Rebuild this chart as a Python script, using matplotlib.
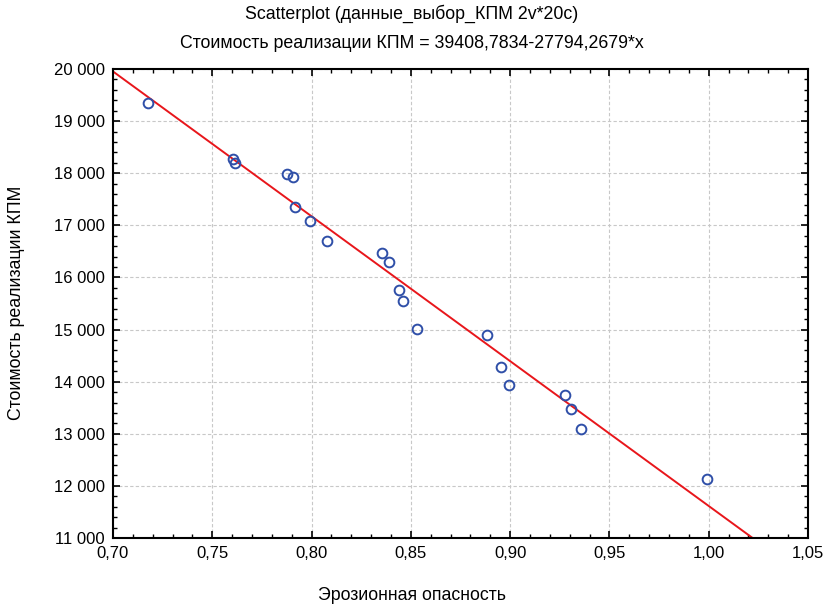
import numpy as np
import matplotlib.pyplot as plt
from matplotlib.ticker import MultipleLocator, FuncFormatter

plt.rcParams['font.family'] = ['Liberation Sans', 'DejaVu Sans']

# erosion hazard vs. cost of implementation (20 cases)
erosion = [0.7176, 0.7606, 0.7616, 0.7878, 0.7908, 0.7917, 0.7992, 0.8078,
           0.8353, 0.8391, 0.8442, 0.8462, 0.8532, 0.8883, 0.8954, 0.8994,
           0.9276, 0.9306, 0.9358, 0.9991]
cost = [19340, 18270, 18190, 17990, 17920, 17350, 17080, 16700,
        16460, 16300, 15765, 15550, 15010, 14890, 14280, 13935,
        13745, 13475, 13085, 12130]
intercept = 39408.7834
slope = -27794.2679

fig = plt.figure(figsize=(8.23, 6.08), dpi=100)
ax = fig.add_axes([0.1373, 0.1151, 0.8445, 0.7714])

xs = np.array([0.70, 1.05])
ax.plot(xs, intercept + slope * xs, color='#e8161b', lw=1.4, zorder=2)
ax.plot(erosion, cost, 'o', mfc='none', mec='#2f4fa8', ms=7, mew=1.4, zorder=3)

ax.set_xlim(0.70, 1.05)
ax.set_ylim(11000, 20000)
ax.xaxis.set_major_locator(MultipleLocator(0.05))
ax.xaxis.set_minor_locator(MultipleLocator(0.01))
ax.yaxis.set_major_locator(MultipleLocator(1000))
ax.yaxis.set_minor_locator(MultipleLocator(200))
ax.xaxis.set_major_formatter(FuncFormatter(lambda v, p: f"{v:.2f}".replace('.', ',')))
ax.yaxis.set_major_formatter(FuncFormatter(lambda v, p: f"{int(round(v)):,}".replace(',', ' ')))

ax.tick_params(which='both', direction='in', top=True, right=True, labelsize=12)
ax.tick_params(which='major', length=5, width=1.2, pad=6)
ax.tick_params(which='minor', length=3, width=1)
for s in ax.spines.values():
    s.set_linewidth(1.5)
ax.grid(True, which='major', color='#c8c8c8', ls=(0, (3, 2)), lw=0.8)

fig.text(0.5, 1 - 14 / 608, 'Scatterplot (данные_выбор_КПМ 2v*20c)', ha='center', va='center', fontsize=12.8)
fig.text(0.5, 1 - 44 / 608, 'Стоимость реализации КПМ = 39408,7834-27794,2679*x', ha='center', va='center', fontsize=12.8)
fig.text(0.5, 1 - 596 / 608, 'Эрозионная опасность', ha='center', va='center', fontsize=12.8)
fig.text(17 / 823, 1 - 303 / 608, 'Стоимость реализации КПМ', ha='center', va='center', rotation=90, fontsize=12.8)

fig.savefig('out.png', dpi=100)
